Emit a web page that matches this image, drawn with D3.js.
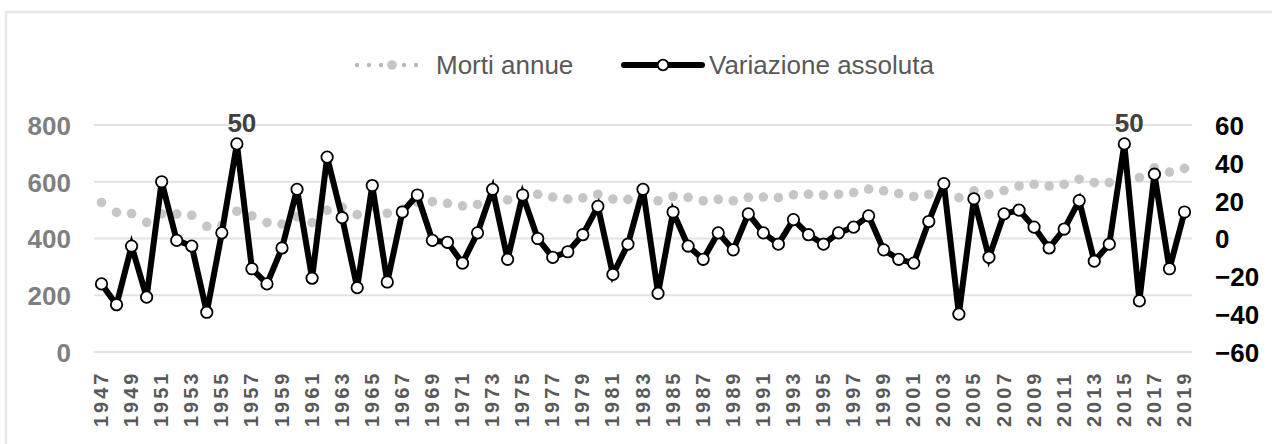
<!DOCTYPE html>
<html>
<head>
<meta charset="utf-8">
<script src="https://cdn.jsdelivr.net/npm/d3@7"></script>
<style>
  body { margin: 0; background: #fff; }
  svg { display: block; font-family: "Liberation Sans", Arial, sans-serif; }
</style>
</head>
<body>
<div id="chart"></div>
<script>
const years = d3.range(1947, 2020);

// Morti annue (asse sinistro)
const morti = [
  527, 492, 488, 457, 487, 486, 482, 443, 446, 496,
  480, 456, 451, 477, 456, 499, 510, 484, 512, 489,
  503, 528, 530, 524, 515, 520, 546, 536, 556, 556,
  546, 539, 543, 556, 539, 538, 562, 533, 548, 545,
  533, 538, 533, 545, 546, 544, 554, 556, 553, 556,
  562, 574, 568, 558, 548, 555, 584, 544, 568, 556,
  569, 585, 591, 585, 591, 609, 597, 597, 647, 615,
  649, 634, 647
];

// Variazione assoluta (asse destro)
const variazione = [
  -24, -35, -4, -31, 30, -1, -4, -39, 3, 50,
  -16, -24, -5, 26, -21, 43, 11, -26, 28, -23,
  14, 23, -1, -2, -13, 3, 26, -11, 23, 0,
  -10, -7, 2, 17, -19, -3, 26, -29, 14, -4,
  -11, 3, -6, 13, 3, -3, 10, 2, -3, 3,
  6, 12, -6, -11, -13, 9, 29, -40, 21, -10,
  13, 15, 6, -5, 5, 20, -12, -3, 50, -33,
  34, -16, 14
];

const leftTicks = [0, 200, 400, 600, 800];
const rightTicks = [-60, -40, -20, 0, 20, 40, 60];
const labelledYears = [1956, 2015];

const W = 1272, H = 444;
const plot = {left: 94, right: 1192, top: 125, bottom: 352};

const svg = d3.select("#chart").append("svg")
  .attr("width", W).attr("height", H);

// cornice
svg.append("rect")
  .attr("x", 6).attr("y", 12)
  .attr("width", 1300).attr("height", 500)
  .attr("fill", "none")
  .attr("stroke", "#e8e8e8")
  .attr("stroke-width", 2.5);

const x = d3.scalePoint()
  .domain(years)
  .range([101.5, 1184.5]);

const yL = d3.scaleLinear().domain([0, 800]).range([plot.bottom, plot.top]);
const yR = d3.scaleLinear().domain([-60, 60]).range([plot.bottom, plot.top]);

// griglia
svg.append("g")
  .selectAll("line")
  .data(leftTicks)
  .join("line")
  .attr("x1", plot.left).attr("x2", plot.right)
  .attr("y1", d => yL(d)).attr("y2", d => yL(d))
  .attr("stroke", "#e3e3e3")
  .attr("stroke-width", 2);

// asse sinistro
const axL = svg.append("g")
  .attr("transform", "translate(71,0)")
  .call(d3.axisLeft(yL).tickValues(leftTicks).tickSize(0).tickPadding(0));
axL.select(".domain").remove();
axL.selectAll("text")
  .attr("font-size", 26).attr("font-weight", "bold")
  .attr("fill", "#7f7f7f")
  .attr("dy", "0.36em")
  .attr("font-family", "Liberation Sans, Arial, sans-serif");

// asse destro
const axR = svg.append("g")
  .attr("transform", "translate(1215,0)")
  .call(d3.axisRight(yR).tickValues(rightTicks).tickSize(0).tickPadding(0));
axR.select(".domain").remove();
axR.selectAll("text")
  .attr("font-size", 26).attr("font-weight", "bold")
  .attr("fill", "#000")
  .attr("dy", "0.36em")
  .attr("font-family", "Liberation Sans, Arial, sans-serif");

// etichette anni
svg.append("g")
  .selectAll("text")
  .data(years.filter((d, i) => i % 2 === 0))
  .join("text")
  .attr("transform", d => `translate(${x(d) + 6.5},427) rotate(-90)`)
  .attr("font-size", 20).attr("font-weight", "bold")
  .attr("letter-spacing", 3)
  .attr("fill", "#595959")
  .text(d => d);

// Morti annue: punti grigi
svg.append("g")
  .selectAll("circle")
  .data(years)
  .join("circle")
  .attr("cx", d => x(d))
  .attr("cy", (d, i) => yL(morti[i]))
  .attr("r", 4.8)
  .attr("fill", "#c6c6c6");

// Variazione assoluta
const line = d3.line()
  .x(d => x(d))
  .y((d, i) => yR(variazione[i]));

svg.append("path")
  .datum(years)
  .attr("d", line)
  .attr("fill", "none")
  .attr("stroke", "#000")
  .attr("stroke-width", 6)
  .attr("stroke-linejoin", "miter");

svg.append("g")
  .selectAll("circle")
  .data(years)
  .join("circle")
  .attr("cx", d => x(d))
  .attr("cy", (d, i) => yR(variazione[i]))
  .attr("r", 5.7)
  .attr("fill", "#fff")
  .attr("stroke", "#000")
  .attr("stroke-width", 1.8);

// etichette dati
svg.append("g")
  .selectAll("text")
  .data(labelledYears)
  .join("text")
  .attr("x", d => x(d) + 5)
  .attr("y", d => yR(variazione[years.indexOf(d)]) - 12)
  .attr("text-anchor", "middle")
  .attr("font-size", 26).attr("font-weight", "bold")
  .attr("fill", "#404040")
  .text(d => variazione[years.indexOf(d)]);

// legenda
const leg = svg.append("g");
leg.selectAll("circle.dot")
  .data([357, 369, 381, 404, 416])
  .join("circle")
  .attr("cx", d => d).attr("cy", 65)
  .attr("r", 2.2)
  .attr("fill", "#b8b8b8");
leg.append("circle")
  .attr("cx", 392).attr("cy", 65).attr("r", 4.8)
  .attr("fill", "#c6c6c6");
leg.append("text")
  .attr("x", 436).attr("y", 74)
  .attr("font-size", 26).attr("fill", "#595959")
  .text("Morti annue");

leg.append("line")
  .attr("x1", 624).attr("x2", 702)
  .attr("y1", 65).attr("y2", 65)
  .attr("stroke", "#000").attr("stroke-width", 6)
  .attr("stroke-linecap", "round");
leg.append("circle")
  .attr("cx", 663).attr("cy", 65).attr("r", 5.3)
  .attr("fill", "#fff").attr("stroke", "#000").attr("stroke-width", 1.8);
leg.append("text")
  .attr("x", 709).attr("y", 74)
  .attr("font-size", 26).attr("fill", "#595959")
  .text("Variazione assoluta");
</script>
</body>
</html>
